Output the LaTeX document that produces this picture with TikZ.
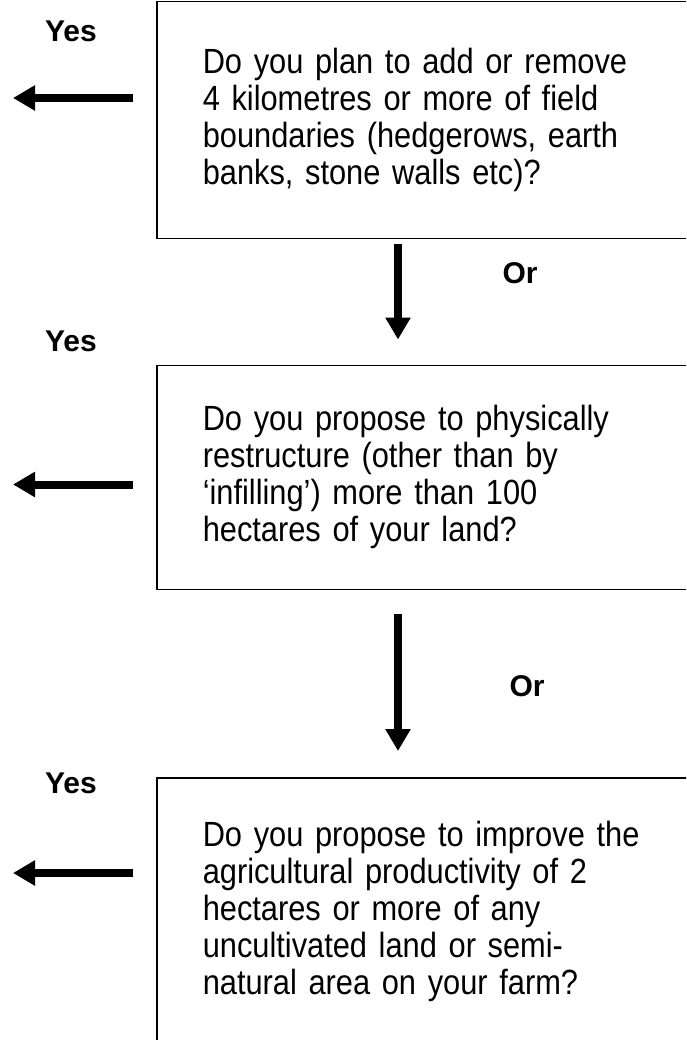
\documentclass[tikz,border=0pt]{standalone}
\usepackage{fontspec}
\setmainfont{Liberation Sans}
\newfontfamily\qfont[FakeStretch=0.88]{Liberation Sans}
\usetikzlibrary{positioning, arrows.meta, calc}
\tikzset{
  question/.style={
	draw, line width=1.5pt, % outline of the question box
	rectangle, anchor=north west,
	minimum width=560pt, % runs past the right edge of the page
	text width=468pt, % width of the question text
	align=left, inner xsep=0pt,
	font=\qfont\fontsize{35}{37}\selectfont,
  },
  answer/.style={font=\bfseries\fontsize{30}{34}\selectfont}, % Yes / Or
  flow/.style={
	-{Triangle[width=24pt,length=22pt]}, % solid head
	line width=8pt, % thick shaft
  }
}
\begin{document}
\begin{tikzpicture}[x=1pt, y=-1pt]
	  \useasboundingbox (0,0) rectangle (686,1040);
	  \clip (0,0) rectangle (686,1040);

	  \node[question, minimum height=237pt] at (156,1) (q1) {Do you plan to add or remove\\ 4 kilometres or more of field\\ boundaries (hedgerows, earth\\ banks, stone walls etc)?};
	  \node[question, minimum height=224pt, below=125pt of q1] (q2) {Do you propose to physically\\ restructure (other than by\\ ‘infilling’) more than 100\\ hectares of your land?};
	  \node[question, minimum height=268pt, below=187pt of q2] (q3) {Do you propose to improve the\\ agricultural productivity of 2\\ hectares or more of any\\ uncultivated land or semi-\\ natural area on your farm?};

	  \node[answer] (yes1) at ($(q1.north west)+(-85,30)$) {Yes};
	  \node[answer] (yes2) at ($(q2.north west)+(-85,-23)$) {Yes};
	  \node[answer] (yes3) at ($(q3.north west)+(-85,6)$) {Yes};
	  \node[answer] (or1) at ($(q1.south west)+(364,34)$) {Or};
	  \node[answer] (or2) at ($(q2.south west)+(371,96)$) {Or};

	  \coordinate (s1) at ($(q1.north west)+(-23,97)$);
	  \coordinate (e1) at ($(q1.north west)+(-143,97)$);
	  \coordinate (s2) at ($(q2.north west)+(-23,120)$);
	  \coordinate (e2) at ($(q2.north west)+(-143,120)$);
	  \coordinate (s3) at ($(q3.north west)+(-23,96)$);
	  \coordinate (e3) at ($(q3.north west)+(-143,96)$);
	  \coordinate (d1) at ($(q1.south west)+(242,5)$);
	  \coordinate (t1) at ($(q1.south west)+(242,100)$);
	  \coordinate (d2) at ($(q2.south west)+(242,24)$);
	  \coordinate (t2) at ($(q2.south west)+(242,161)$);

	  \draw[flow] (s1) -- (e1);
	  \draw[flow] (s2) -- (e2);
	  \draw[flow] (s3) -- (e3);
	  \draw[flow] (d1) -- (t1);
	  \draw[flow] (d2) -- (t2);
\end{tikzpicture}
\end{document}
